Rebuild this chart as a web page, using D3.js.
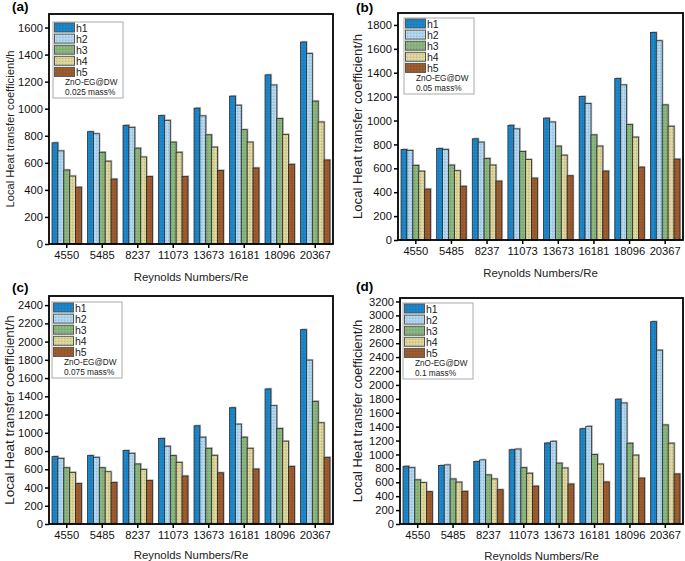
<!DOCTYPE html>
<html>
<head>
<meta charset="utf-8">
<script src="https://cdn.jsdelivr.net/npm/d3@7"></script>
<style>
  body { margin: 0; background: #fff; }
  svg { display: block; font-family: "Liberation Sans", Arial, sans-serif; }
</style>
</head>
<body>
<div id="chart"></div>
<script>
const reynolds = ['4550', '5485', '8237', '11073', '13673', '16181', '18096', '20367'];
const seriesNames = ['h1', 'h2', 'h3', 'h4', 'h5'];
const seriesColors = ['#1a84c6', '#acd2ec', '#87b27c', '#d8d198', '#9a5a2d'];

// values per panel, one row per series (h1..h5)
const valuesA = [
  [748, 830, 877, 949, 1004, 1093, 1250, 1493],
  [688, 815, 862, 914, 947, 1026, 1175, 1409],
  [547, 678, 708, 753, 807, 845, 927, 1056],
  [502, 612, 643, 678, 716, 753, 810, 902],
  [420, 480, 499, 499, 544, 562, 589, 621]
];
const valuesB = [
  [757, 766, 847, 960, 1020, 1201, 1351, 1736],
  [750, 758, 819, 930, 988, 1142, 1298, 1668],
  [625, 627, 683, 741, 786, 880, 967, 1131],
  [576, 580, 627, 674, 710, 786, 861, 952],
  [426, 450, 493, 518, 538, 577, 610, 677]
];
const valuesC = [
  [739, 750, 805, 937, 1077, 1275, 1481, 2131],
  [720, 731, 775, 853, 952, 1095, 1297, 1797],
  [617, 617, 658, 750, 830, 952, 1047, 1345],
  [566, 573, 599, 676, 753, 830, 908, 1110],
  [445, 456, 478, 526, 562, 603, 632, 731]
];
const valuesD = [
  [830, 840, 898, 1068, 1165, 1370, 1795, 2910],
  [810, 850, 922, 1078, 1190, 1405, 1740, 2500],
  [635, 648, 706, 810, 875, 1000, 1162, 1425],
  [595, 602, 648, 730, 805, 862, 990, 1162],
  [465, 470, 493, 545, 575, 605, 660, 720]
];
const yMaxes = [1700, 1900, 2500, 3250];
const yTickMax = [1600, 1800, 2400, 3200];
const panelLetters = ['(a)', '(b)', '(c)', '(d)'];
const massLabels = ['0.025 mass%', '0.05 mass%', '0.075 mass%', '0.1 mass%'];

const panels = [
  {data: valuesA, x0: 49, x1: 333, y0: 14, y1: 244, lab: [12, 11], ytx: 10, ytSize: 11.2, xt: 277, leg: [53, 22]},
  {data: valuesB, x0: 398, x1: 683, y0: 13, y1: 240, lab: [356, 12], ytx: 358, ytSize: 13.2, xt: 273, leg: [404, 18]},
  {data: valuesC, x0: 49, x1: 333, y0: 296, y1: 524, lab: [12, 292], ytx: 10, ytSize: 13.5, xt: 555, leg: [52, 302]},
  {data: valuesD, x0: 400, x1: 683, y0: 298, y1: 524, lab: [356, 291], ytx: 358, ytSize: 13, xt: 556, leg: [403, 303]}
];

const svg = d3.select('#chart').append('svg')
  .attr('width', 685)
  .attr('height', 561);

// textured fills
const defs = svg.append('defs');
seriesColors.forEach((c, i) => {
  const p = defs.append('pattern')
    .attr('id', 'pat' + i)
    .attr('width', 3).attr('height', 3)
    .attr('patternUnits', 'userSpaceOnUse');
  p.append('rect').attr('width', 3).attr('height', 3).attr('fill', c);
  p.append('rect').attr('x', 0).attr('y', 0).attr('width', 1).attr('height', 1)
    .attr('fill', d3.color(c).darker(0.35));
  p.append('rect').attr('x', 2).attr('y', 1).attr('width', 1).attr('height', 1)
    .attr('fill', d3.color(c).brighter(0.25));
});

panels.forEach((pn, pi) => {
  const g = svg.append('g');

  const x = d3.scaleBand().domain(reynolds)
    .range([pn.x0, pn.x1]).paddingInner(0.17).paddingOuter(0.085);
  const xs = d3.scaleBand().domain(seriesNames).range([0, x.bandwidth()]);
  const y = d3.scaleLinear().domain([0, yMaxes[pi]]).range([pn.y1, pn.y0]);

  const rows = [];
  pn.data.forEach((row, si) => {
    row.forEach((v, ci) => rows.push({s: seriesNames[si], si: si, c: reynolds[ci], v: v}));
  });

  // shadow
  g.selectAll('.shadow').data(rows).enter().append('rect')
    .attr('x', d => x(d.c) + xs(d.s) + 1.2)
    .attr('y', d => y(d.v) - 1.2)
    .attr('width', xs.bandwidth())
    .attr('height', d => pn.y1 - y(d.v))
    .attr('fill', '#9a9a9a')
    .attr('opacity', 0.7);

  g.selectAll('.bar').data(rows).enter().append('rect')
    .attr('x', d => x(d.c) + xs(d.s))
    .attr('y', d => y(d.v))
    .attr('width', xs.bandwidth())
    .attr('height', d => pn.y1 - y(d.v))
    .attr('fill', d => 'url(#pat' + d.si + ')')
    .attr('stroke', '#2b2b2b')
    .attr('stroke-width', 0.8);

  // axes
  const yAxis = d3.axisLeft(y)
    .tickValues(d3.range(0, yTickMax[pi] + 1, 200))
    .tickFormat(d3.format('d'))
    .tickSize(4).tickPadding(2).tickSizeOuter(0);
  const ya = g.append('g').attr('transform', `translate(${pn.x0},0)`).call(yAxis);
  const xAxis = d3.axisBottom(x).tickSize(4).tickPadding(3).tickSizeOuter(0);
  const xa = g.append('g').attr('transform', `translate(0,${pn.y1})`).call(xAxis);
  [ya, xa].forEach(a => {
    a.select('.domain').remove();
    a.selectAll('line').attr('stroke', '#000').attr('stroke-width', 1.5);
    a.selectAll('text').attr('font-size', 11.2).attr('fill', '#111')
      .attr('font-family', '"Liberation Sans", Arial, sans-serif');
  });

  // frame
  g.append('rect')
    .attr('x', pn.x0).attr('y', pn.y0)
    .attr('width', pn.x1 - pn.x0).attr('height', pn.y1 - pn.y0)
    .attr('fill', 'none').attr('stroke', '#000').attr('stroke-width', 1.8);

  // titles
  g.append('text')
    .attr('x', (pn.x0 + pn.x1) / 2).attr('y', pn.xt + 4)
    .attr('text-anchor', 'middle').attr('font-size', 11.4).attr('fill', '#222')
    .text('Reynolds Numbers/Re');
  g.append('text')
    .attr('transform', `translate(${pn.ytx + 4},${(pn.y0 + pn.y1) / 2}) rotate(-90)`)
    .attr('text-anchor', 'middle').attr('font-size', pn.ytSize).attr('fill', '#222')
    .text('Local Heat transfer coefficient/h');
  g.append('text')
    .attr('x', pn.lab[0]).attr('y', pn.lab[1])
    .attr('font-size', 13.5).attr('font-weight', 'bold')
    .text(panelLetters[pi]);

  // legend
  const lg = g.append('g').attr('transform', `translate(${pn.leg[0]},${pn.leg[1]})`);
  lg.append('rect').attr('width', 70).attr('height', 76)
    .attr('fill', '#fff').attr('stroke', '#aaa').attr('stroke-width', 1);
  seriesNames.forEach((s, i) => {
    lg.append('rect')
      .attr('x', 1.5).attr('y', 1 + i * 11.1)
      .attr('width', 20).attr('height', 9)
      .attr('fill', 'url(#pat' + i + ')')
      .attr('stroke', '#555').attr('stroke-width', 1);
    lg.append('text')
      .attr('x', 23).attr('y', 9.5 + i * 11.1)
      .attr('font-size', 10.5).attr('fill', '#222')
      .text(s);
  });
  lg.append('text').attr('x', 12).attr('y', 63.3)
    .attr('font-size', 8.2).attr('fill', '#222').text('ZnO-EG@DW');
  lg.append('text').attr('x', 12).attr('y', 73.3)
    .attr('font-size', 8.3).attr('fill', '#222').text(massLabels[pi]);
});
</script>
</body>
</html>
